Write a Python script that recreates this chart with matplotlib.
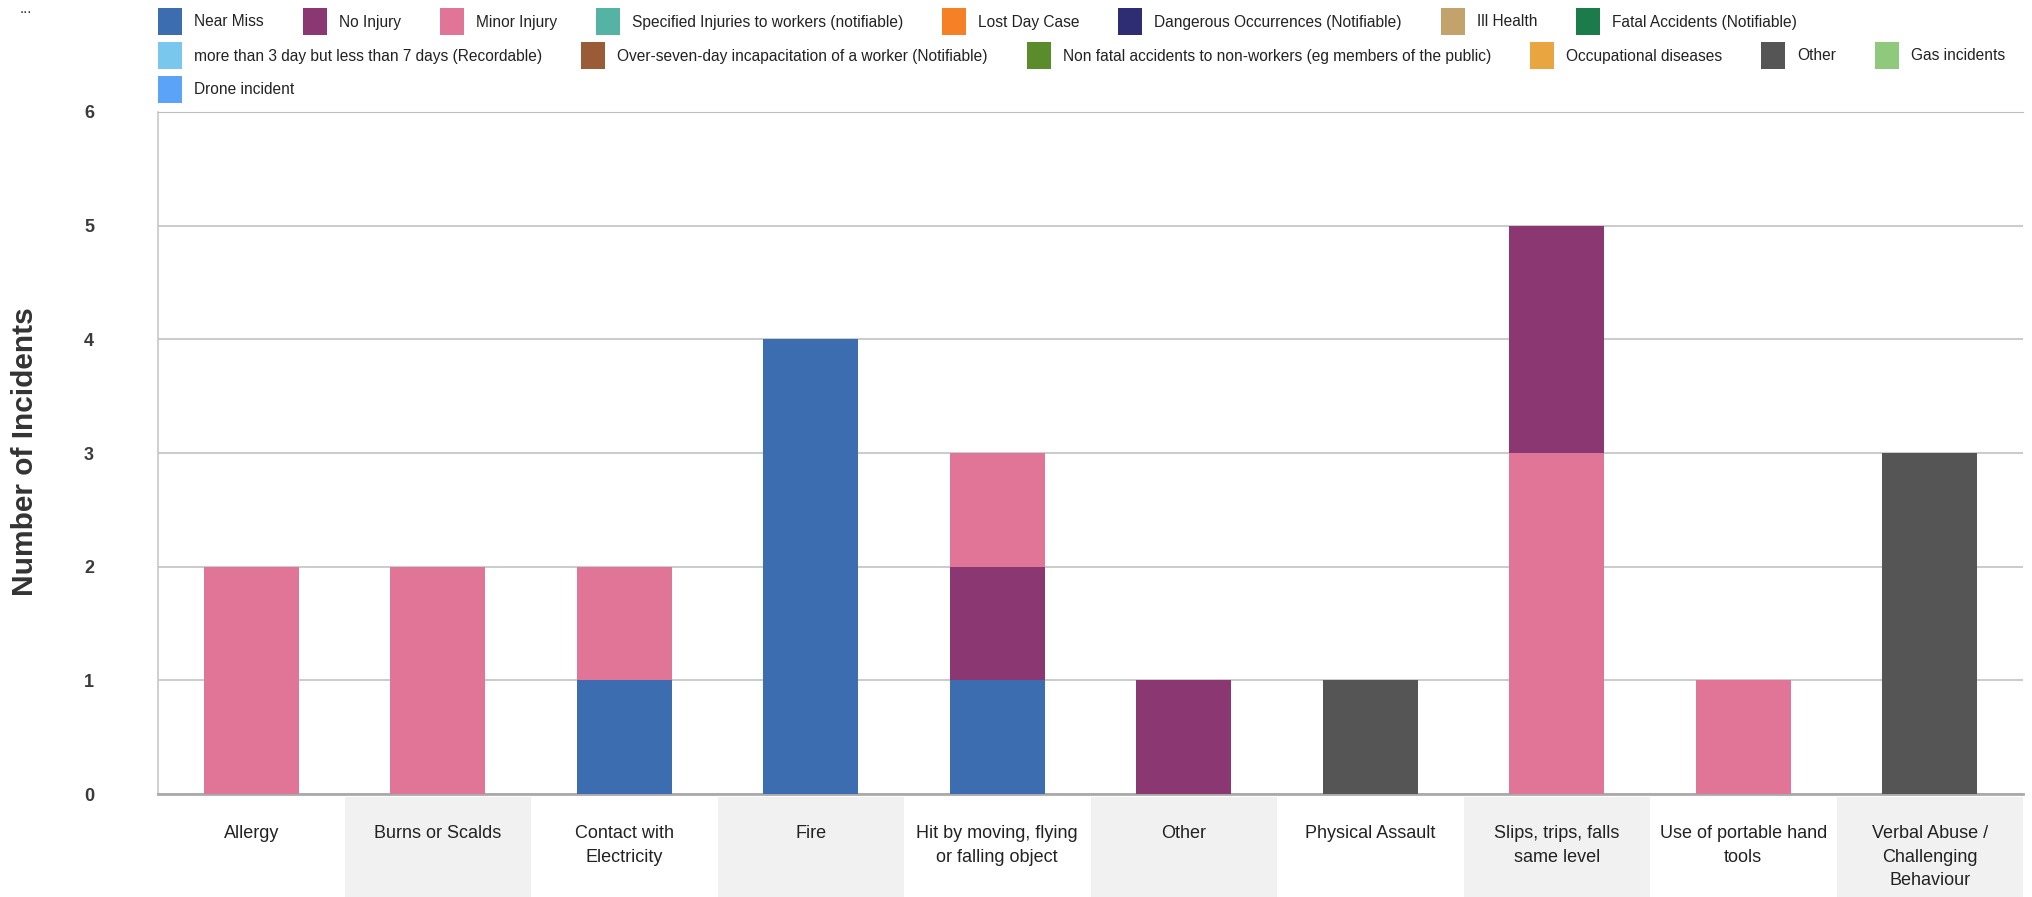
import numpy as np
import matplotlib.pyplot as plt
from matplotlib.patches import Rectangle
from matplotlib import font_manager

# incident categories along the x axis
categories = ['Allergy', 'Burns or Scalds', 'Contact with\nElectricity', 'Fire',
              'Hit by moving, flying\nor falling object', 'Other', 'Physical Assault',
              'Slips, trips, falls\nsame level', 'Use of portable hand\ntools',
              'Verbal Abuse /\nChallenging\nBehaviour']

# incident types (legend order) and their colours
incident_types = ['Near Miss', 'No Injury', 'Minor Injury',
                  'Specified Injuries to workers (notifiable)', 'Lost Day Case',
                  'Dangerous Occurrences (Notifiable)', 'Ill Health',
                  'Fatal Accidents (Notifiable)',
                  'more than 3 day but less than 7 days (Recordable)',
                  'Over-seven-day incapacitation of a worker (Notifiable)',
                  'Non fatal accidents to non-workers (eg members of the public)',
                  'Occupational diseases', 'Other', 'Gas incidents', 'Drone incident']
type_colors = ['#3c6db0', '#8b3772', '#e07598', '#55b3a6', '#f58026',
               '#2e2c72', '#c3a36c', '#1b7b4b', '#7ac7ee', '#9a5b37',
               '#5a8c2b', '#e8a540', '#555555', '#8fc97b', '#5aa3f8']

# stacked segments, bottom to top within each bar
seg_category = [0, 1, 2, 2, 3, 4, 4, 4, 5, 6, 7, 7, 8, 9]
seg_type = ['Minor Injury', 'Minor Injury', 'Near Miss', 'Minor Injury', 'Near Miss',
            'Near Miss', 'No Injury', 'Minor Injury', 'No Injury', 'Other',
            'Minor Injury', 'No Injury', 'Minor Injury', 'Other']
seg_count = [2, 2, 1, 1, 4, 1, 1, 1, 1, 1, 3, 2, 1, 3]

installed = {f.name for f in font_manager.fontManager.ttflist}
narrow = 'Liberation Sans Narrow' if 'Liberation Sans Narrow' in installed else 'Liberation Sans'
plt.rcParams['font.family'] = [narrow, 'DejaVu Sans']

W, H = 2033, 897
fig = plt.figure(figsize=(W / 100, H / 100), dpi=100)
ax = fig.add_axes([158 / W, 1 - 794 / H, (2023 - 158) / W, (794 - 112) / H])

color_of = dict(zip(incident_types, type_colors))
bottoms = np.zeros(len(categories))
for c, t, n in zip(seg_category, seg_type, seg_count):
    ax.bar(c, n, bottom=bottoms[c], width=0.51, color=color_of[t], zorder=3)
    bottoms[c] += n

ax.set_xlim(-0.5, len(categories) - 0.5)
ax.set_ylim(0, 6)
ax.set_yticks(range(7))
ax.yaxis.grid(True, color='#bdbdbd', lw=1.1, zorder=0)
ax.set_axisbelow(True)
ax.set_xticks([])
ax.tick_params(axis='y', length=0, pad=46, labelsize=13, labelcolor='#3a3a3a')
for lab in ax.get_yticklabels():
    lab.set_fontfamily(['Liberation Sans', 'DejaVu Sans'])
    lab.set_fontweight('bold')
ax.spines['right'].set_visible(False)
ax.spines['top'].set_color('#bdbdbd')
ax.spines['left'].set_color('#c4c4c4')
ax.spines['left'].set_linewidth(1.1)
ax.spines['bottom'].set_color('#aaaaaa')
ax.spines['bottom'].set_linewidth(2)

# category labels with alternating shaded bands below the axis
trans = ax.get_xaxis_transform()
for i, name in enumerate(categories):
    if i % 2 == 1:
        ax.add_patch(Rectangle((i - 0.5, -0.16), 1, 0.155, transform=trans,
                               facecolor='#f1f1f1', edgecolor='none', clip_on=False, zorder=1))
    ax.text(i, -0.045, name, transform=trans, ha='center', va='top', fontsize=13,
            color='#222222', linespacing=1.53, zorder=2)

fig.text(25 / W, 0.496, 'Number of Incidents', rotation=90, ha='center', va='center',
         fontsize=21.5, fontweight='bold', color='#333333',
         family=['Liberation Sans', 'DejaVu Sans'])
fig.text(20 / W, 1 - 9 / H, '...', fontsize=11, color='#333333', va='center')

# legend laid out in flowing rows
renderer = fig.canvas.get_renderer()
x, row_y = 158, 22
for name, col in zip(incident_types, type_colors):
    t = fig.text(0, 0, name, fontsize=11.2)
    tw = t.get_window_extent(renderer).width
    if x + 36 + tw > W - 8:
        x = 158
        row_y += 34
    fig.patches.append(Rectangle((x / W, 1 - (row_y + 13.5) / H), 24 / W, 27 / H,
                                 transform=fig.transFigure, facecolor=col,
                                 edgecolor='none'))
    t.set_position(((x + 36) / W, 1 - row_y / H))
    t.set_va('center')
    t.set_color('#222222')
    x += 36 + tw + 39

fig.savefig('out.png', dpi=100)
